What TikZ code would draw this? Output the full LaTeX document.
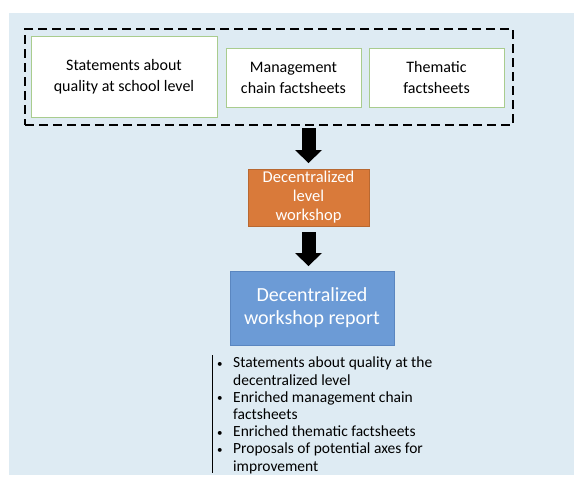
\documentclass[tikz,border=0pt]{standalone}
\usepackage{fontspec}
\setmainfont{Carlito}
\usetikzlibrary{arrows.meta,positioning}
\definecolor{panel}{HTML}{DEEBF3}
\definecolor{gborder}{HTML}{A9CC8E}
\definecolor{orangebox}{HTML}{D97A3A}
\definecolor{bluebox}{HTML}{6C9BD6}
\definecolor{bluebord}{HTML}{5A86C0}
\tikzset{
  srcbox/.style={draw=gborder, line width=1pt, fill=white, align=center, inner sep=0pt, font=\fontsize{16}{21}\selectfont},
  bul/.style={},
}
\newcommand{\bitem}{\makebox[16pt][l]{\raisebox{0.5pt}{\fontsize{11}{11}\selectfont\textbullet}}}
\begin{document}
\begin{tikzpicture}[x=1pt,y=-1pt]
\useasboundingbox (0,0) rectangle (574,477);
\fill[white] (0,0) rectangle (574,477);
\fill[panel] (9,13) rectangle (574,475);
% dashed group
\node[draw, line width=1.6pt, dash pattern=on 9pt off 5pt, minimum width=488pt, minimum height=96pt, inner sep=0pt] (grp) at (269,77) {};
\node[srcbox, minimum width=186pt, minimum height=81pt] (s1) at (124,76.5) {Statements about\\quality at school level};
\node[srcbox, minimum width=135pt, minimum height=59pt] (s2) at (293.5,77.5) {Management\\chain factsheets};
\node[srcbox, minimum width=135pt, minimum height=59pt] (s3) at (436.5,77.5) {Thematic\\factsheets};
% workshop
\node[fill=orangebox, draw=orangebox!85!black, line width=0.5pt, minimum width=121pt, minimum height=57pt, inner sep=0pt, align=center, text=white, font=\fontsize{16.5}{19}\selectfont] (ws) at (308.5,197.5) {Decentralized\\level\\workshop};
\node[fill=bluebox, draw=bluebord, line width=0.8pt, minimum width=164pt, minimum height=74pt, inner sep=0pt, align=center, text=white, font=\fontsize{20}{23}\selectfont] (rep) at (312,308) {Decentralized\\workshop report};
% arrows
\fill (301.5,128) rectangle (315.5,150);
\fill (295,150) -- (322,150) -- (308.5,163) -- cycle;
\fill (301.5,232) rectangle (315.5,253);
\fill (295,253) -- (322,253) -- (308.5,266) -- cycle;
% outcome list
\coordinate (lt) at (212,355);
\coordinate (lb) at (212,473);
\draw[line width=1pt] (lt) -- (lb);
\node[anchor=north west, inner sep=0pt, align=left, font=\fontsize{15.5}{17.2}\selectfont] (list) at (217,357) {%
\bitem Statements about quality at the\\
\hspace*{16pt}decentralized level\\
\bitem Enriched management chain\\
\hspace*{16pt}factsheets\\
\bitem Enriched thematic factsheets\\
\bitem Proposals of potential axes for\\
\hspace*{16pt}improvement};
\end{tikzpicture}
\end{document}
